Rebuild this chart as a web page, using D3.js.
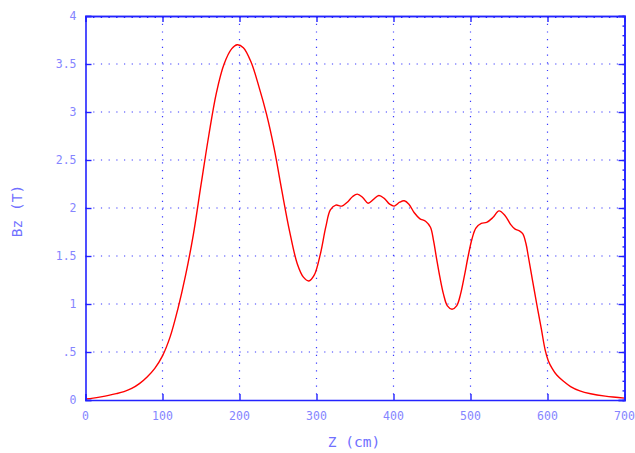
<!DOCTYPE html>
<html>
<head>
<meta charset="utf-8">
<script src="https://cdn.jsdelivr.net/npm/d3@7"></script>
<style>
  body { margin: 0; background: #fff; }
  .tick-label { font-family: "DejaVu Sans Mono", monospace; font-size: 11.5px; fill: #8585ff; }
  .axis-label { font-family: "DejaVu Sans Mono", monospace; font-size: 14.5px; fill: #7070ff; }
</style>
</head>
<body>
<div id="chart"></div>
<script>
// 1: DATA
const zValues = [0, 10, 20, 30, 40, 50, 60, 70, 80, 90, 100, 110, 120, 130, 140, 150, 160, 170, 180, 190,
  197, 205, 215, 225, 235, 245, 255, 265, 275, 283, 290, 297, 305, 312, 318, 325, 333, 340, 347, 353,
  360, 367, 374, 381, 388, 395, 401, 408, 414, 420, 427, 434, 442, 448, 452, 456, 460, 465, 470, 476,
  482, 487, 492, 497, 502, 507, 514, 521, 529, 537, 545, 552, 558, 564, 568, 572, 575, 580, 586, 592,
  597, 601, 606, 612, 620, 630, 642, 656, 675, 700];
const bzValues = [0.01, 0.02, 0.033, 0.048, 0.066, 0.088, 0.12, 0.17, 0.24, 0.33, 0.46, 0.66, 0.95, 1.30, 1.72, 2.24, 2.75, 3.20, 3.50, 3.66,
  3.70, 3.67, 3.52, 3.27, 2.98, 2.62, 2.18, 1.76, 1.42, 1.28, 1.24, 1.30, 1.52, 1.80, 1.98, 2.03, 2.02, 2.06, 2.12, 2.145,
  2.11, 2.05, 2.09, 2.13, 2.10, 2.04, 2.02, 2.06, 2.075, 2.04, 1.95, 1.89, 1.86, 1.80, 1.66, 1.47, 1.29, 1.10, 0.98, 0.945,
  0.98, 1.10, 1.29, 1.50, 1.68, 1.79, 1.84, 1.85, 1.90, 1.97, 1.92, 1.83, 1.78, 1.76, 1.73, 1.63, 1.50, 1.27, 1.00, 0.74,
  0.52, 0.41, 0.33, 0.26, 0.20, 0.14, 0.095, 0.065, 0.04, 0.02];

const xTicks = [0, 100, 200, 300, 400, 500, 600, 700];
const yTicks = [0, 0.5, 1, 1.5, 2, 2.5, 3, 3.5, 4];
const yTickLabels = ["0", ".5", "1", "1.5", "2", "2.5", "3", "3.5", "4"];

const data = zValues.map((z, i) => ({ z: z, bz: bzValues[i] }));

// 2: LAYOUT
const W = 635, H = 453;
const margin = { top: 16, right: 10.5, bottom: 53, left: 85.5 };
const width = W - margin.left - margin.right;
const height = H - margin.top - margin.bottom;

const svg = d3.select("#chart").append("svg")
  .attr("width", W).attr("height", H);
const g = svg.append("g")
  .attr("transform", `translate(${margin.left},${margin.top})`);

// 3: SCALES
const xScale = d3.scaleLinear().domain([0, 700]).range([0, width]);
const yScale = d3.scaleLinear().domain([0, 4]).range([height, 0]);

const axisColor = "#2323ff";
const gridColor = "#3a3aff";

// 4: GRID (dotted)
g.selectAll(".vgrid").data(xTicks.slice(1, -1)).enter().append("line")
  .attr("x1", d => xScale(d)).attr("x2", d => xScale(d))
  .attr("y1", 0).attr("y2", height)
  .attr("stroke", gridColor).attr("stroke-width", 1.2)
  .attr("stroke-dasharray", "1.2,6.5");
g.selectAll(".hgrid").data(yTicks.slice(1, -1)).enter().append("line")
  .attr("x1", 0).attr("x2", width)
  .attr("y1", d => yScale(d)).attr("y2", d => yScale(d))
  .attr("stroke", gridColor).attr("stroke-width", 1.2)
  .attr("stroke-dasharray", "1.2,6.5");

// 5: CURVE
const line = d3.line()
  .x(d => xScale(d.z))
  .y(d => yScale(d.bz))
  .curve(d3.curveCatmullRom.alpha(0.5));
g.append("path")
  .datum(data)
  .attr("d", line)
  .attr("fill", "none")
  .attr("stroke", "#ff0000")
  .attr("stroke-width", 1.4);

// 6: AXES (ticks pointing inward)
g.append("g").attr("transform", `translate(0,${height})`)
  .call(d3.axisBottom(xScale).tickValues(xTicks).tickSize(-6).tickFormat(""));
g.append("g")
  .call(d3.axisTop(xScale).tickValues(xTicks).tickSize(-6).tickFormat(""));
g.append("g")
  .call(d3.axisTop(xScale).tickValues(d3.range(0, 701, 10)).tickSize(-2).tickFormat(""));
g.append("g")
  .call(d3.axisLeft(yScale).tickValues(yTicks).tickSize(-6).tickFormat(""));
g.append("g").attr("transform", `translate(${width},0)`)
  .call(d3.axisRight(yScale).tickValues(yTicks).tickSize(-6).tickFormat(""));
g.append("g").attr("transform", `translate(${width},0)`)
  .call(d3.axisRight(yScale).tickValues(d3.range(0, 4.01, 0.1)).tickSize(-2).tickFormat(""));

g.selectAll(".domain").attr("stroke", axisColor).attr("stroke-width", 1.6);
g.selectAll(".tick line").attr("stroke", axisColor).attr("stroke-width", 1.4);

// 7: TICK LABELS
g.selectAll(".xlab").data(xTicks).enter().append("text")
  .attr("class", "tick-label")
  .attr("x", d => xScale(d))
  .attr("y", height + 20)
  .attr("text-anchor", "middle")
  .text(d => d);
g.selectAll(".ylab").data(yTicks).enter().append("text")
  .attr("class", "tick-label")
  .attr("x", -9)
  .attr("y", d => yScale(d))
  .attr("dy", "0.36em")
  .attr("text-anchor", "end")
  .text((d, i) => yTickLabels[i]);

// 8: AXIS TITLES
svg.append("text")
  .attr("class", "axis-label")
  .attr("x", margin.left + width / 2 - 1)
  .attr("y", 447)
  .attr("text-anchor", "middle")
  .text("Z (cm)");
svg.append("text")
  .attr("class", "axis-label")
  .attr("transform", "translate(22,211) rotate(-90)")
  .attr("text-anchor", "middle")
  .text("Bz (T)");
</script>
</body>
</html>
